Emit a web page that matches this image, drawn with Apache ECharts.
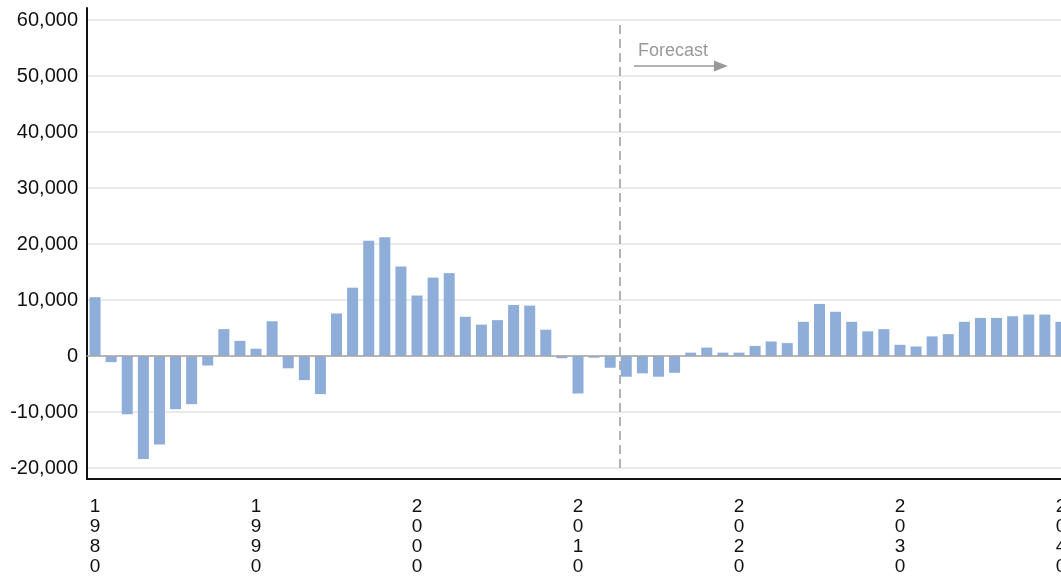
<!DOCTYPE html>
<html>
<head>
<meta charset="utf-8">
<script src="https://cdn.jsdelivr.net/npm/echarts@6/dist/echarts.min.js"></script>
<style>
html,body{margin:0;padding:0;background:#fff;}
#chart{width:1061px;height:581px;}
</style>
</head>
<body>
<div id="chart"></div>
<script>
const years = ['1980','1981','1982','1983','1984','1985','1986','1987','1988','1989',
  '1990','1991','1992','1993','1994','1995','1996','1997','1998','1999',
  '2000','2001','2002','2003','2004','2005','2006','2007','2008','2009',
  '2010','2011','2012','2013','2014','2015','2016','2017','2018','2019',
  '2020','2021','2022','2023','2024','2025','2026','2027','2028','2029',
  '2030','2031','2032','2033','2034','2035','2036','2037','2038','2039','2040'];
const values = [10500,-1100,-10400,-18400,-15800,-9500,-8600,-1700,4800,2700,
  1300,6200,-2200,-4300,-6800,7600,12200,20600,21200,16000,
  10800,14000,14800,7000,5600,6400,9100,9000,4700,-400,
  -6700,-300,-2100,-3700,-3100,-3700,-3000,600,1500,600,
  600,1800,2600,2300,6100,9300,7900,6100,4400,4800,
  2000,1700,3500,3900,6100,6800,6800,7100,7400,7400,6100];
const yTicks = {min:-20000, max:60000, interval:10000};
const forecastStartYear = '2013';
const forecastLabel = 'Forecast';
const arrowY = 51800;

const fIdx = years.indexOf(forecastStartYear);
const chart = echarts.init(document.getElementById('chart'));
const fmt = v => v.toLocaleString('en-US');
chart.setOption({
  animation:false,
  grid:[
    {left:87, right:-8, top:20, bottom:113, containLabel:false, outerBoundsMode:'none'},
    {left:87, right:-8, top:8, bottom:102, containLabel:false, outerBoundsMode:'none'}
  ],
  xAxis:[
    {type:'category', gridIndex:0, data:years, z:5,
     axisLine:{onZero:true, lineStyle:{color:'#a6a6a6', width:1.5}},
     axisTick:{show:false}, axisLabel:{show:false}, splitLine:{show:false}},
    {type:'category', gridIndex:1, data:years, position:'bottom',
     axisLine:{onZero:false, lineStyle:{color:'#111', width:2}},
     axisTick:{show:false},
     axisLabel:{interval:9, margin:18, color:'#111', fontSize:19, lineHeight:20,
       fontFamily:"'Liberation Sans Narrow','Arial Narrow','Liberation Sans',sans-serif",
       formatter:v=>v.split('').join('\n')},
     splitLine:{show:false}},
    {type:'value', gridIndex:0, min:-0.5, max:years.length-0.5, show:false}
  ],
  yAxis:[
    {type:'value', gridIndex:0, min:yTicks.min, max:yTicks.max, interval:yTicks.interval,
     axisLine:{show:false}, axisTick:{show:false},
     axisLabel:{color:'#111', fontSize:20, margin:9, fontFamily:"'Liberation Sans',Arial,sans-serif", formatter:fmt},
     splitLine:{lineStyle:{color:'#e3e3e3', width:1.5}}},
    {type:'value', gridIndex:1, min:0, max:1,
     axisLine:{show:true, lineStyle:{color:'#111', width:2}},
     axisTick:{show:false}, axisLabel:{show:false}, splitLine:{show:false}}
  ],
  series:[
    {type:'bar', xAxisIndex:0, yAxisIndex:0, data:values, barWidth:11,
     itemStyle:{color:'#8eadd9'}},
    {type:'line', xAxisIndex:2, yAxisIndex:0, data:[], silent:true,
     markLine:{silent:true, symbol:['none','none'],
       data:[
         {xAxis:fIdx-0.4, lineStyle:{color:'#999', width:1.5, type:[9,5]}, label:{show:false}},
         [{coord:[fIdx+0.48, arrowY], lineStyle:{color:'#999', width:1.5, type:'solid'},
           label:{show:true, formatter:forecastLabel, position:'insideStartTop', distance:[4,6],
             color:'#999', fontSize:18, fontFamily:"'Liberation Sans',Arial,sans-serif"}},
          {coord:[fIdx+5.88, arrowY], symbol:'triangle', symbolSize:[11,14]}]
       ]}}
  ]
});
</script>
</body>
</html>
